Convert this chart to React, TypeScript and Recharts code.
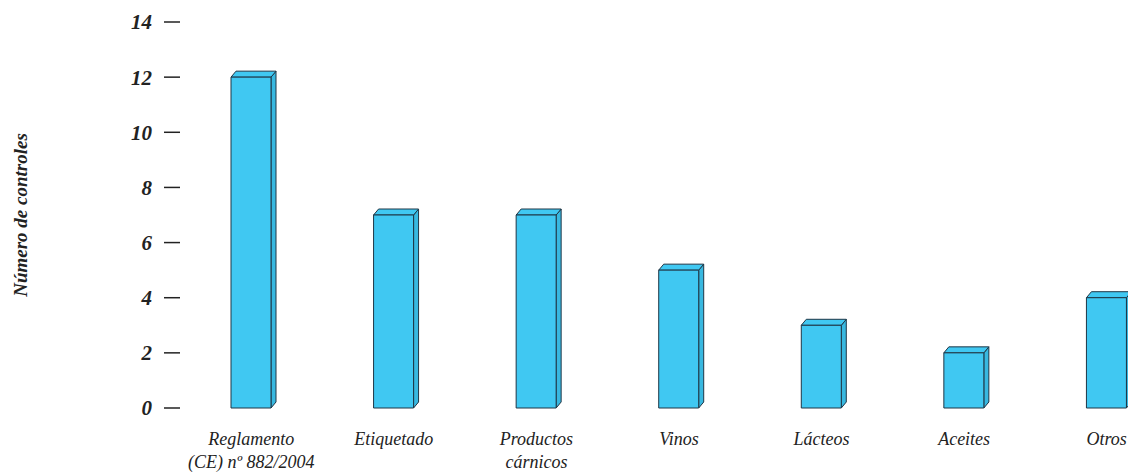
import React from 'react';
import { BarChart, Bar, XAxis, YAxis } from 'recharts';

const categories = ['Reglamento\n(CE) nº 882/2004', 'Etiquetado', 'Productos\ncárnicos', 'Vinos', 'Lácteos', 'Aceites', 'Otros'];
const controles = [12, 7, 7, 5, 3, 2, 4];
const yTicks = [0, 2, 4, 6, 8, 10, 12, 14];

const data = categories.map((c, i) => ({ name: c, value: controles[i] }));

const FILL = '#40C8F2';
const SIDE = '#38B8E0';
const EDGE = '#1E3646';
const SERIF = '"Liberation Serif", "Times New Roman", serif';

const Bar3D = (props: any) => {
  const { x, y, width, height } = props;
  const dx = 5;
  const dy = 6;
  return (
    <g stroke={EDGE} strokeWidth={1} strokeLinejoin="round">
      <polygon points={`${x + width},${y} ${x + width + dx},${y - dy} ${x + width + dx},${y + height - dy} ${x + width},${y + height}`} fill={SIDE} />
      <polygon points={`${x},${y} ${x + dx},${y - dy} ${x + width + dx},${y - dy} ${x + width},${y}`} fill={FILL} />
      <rect x={x} y={y} width={width} height={height} fill={FILL} />
    </g>
  );
};

const XTick = (props: any) => {
  const { x, y, payload } = props;
  const lines = String(payload.value).split('\n');
  return (
    <g>
      {lines.map((l, i) => (
        <text key={i} x={x} y={y + 29 + i * 23} textAnchor="middle" fontFamily={SERIF} fontStyle="italic" fontSize={18} fill="#222">
          {l}
        </text>
      ))}
    </g>
  );
};

const YLabel = (props: any) => {
  const vb = props.viewBox || { x: 0, y: 0, height: 0 };
  const cx = vb.x + 20;
  const cy = vb.y + vb.height / 2;
  return (
    <text x={cx} y={cy} transform={`rotate(-90 ${cx} ${cy})`} textAnchor="middle" dominantBaseline="central" fontFamily={SERIF} fontStyle="italic" fontWeight="bold" fontSize={19} fill="#222">
      Número de controles
    </text>
  );
};

export default function App() {
  return (
    <div style={{ position: 'absolute', left: 0, top: 0, width: 1128, height: 472, overflow: 'hidden', background: '#fff' }}>
      <BarChart width={1178} height={472} data={data} margin={{ top: 22, right: 0, bottom: 0, left: 0 }}>
        <XAxis dataKey="name" axisLine={false} tickLine={false} tick={<XTick />} height={64} interval={0} />
        <YAxis
          domain={[0, 14]}
          ticks={yTicks}
          width={180}
          axisLine={false}
          tickSize={16}
          tickMargin={12}
          tickLine={{ stroke: '#222', strokeWidth: 1.5 }}
          tick={{ fontFamily: SERIF, fontStyle: 'italic', fontWeight: 'bold', fontSize: 21, fill: '#222' }}
          label={<YLabel />}
        />
        <Bar dataKey="value" barSize={40} shape={<Bar3D />} isAnimationActive={false} />
      </BarChart>
    </div>
  );
}
